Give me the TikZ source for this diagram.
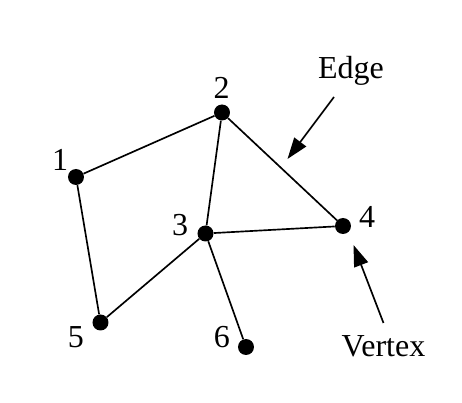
\documentclass[tikz,border=0pt]{standalone}
\usepackage{fontspec}
\setmainfont{Liberation Serif}
\usetikzlibrary{arrows.meta}
\begin{document}
\begin{tikzpicture}[x=0.75pt,y=-0.75pt,
  vtx/.style={circle,fill=black,inner sep=0pt,minimum size=12pt},
  lbl/.style={font=\fontsize{24}{28}\selectfont,inner sep=0pt},
  edg/.style={line width=1.25pt},
  ptr/.style={line width=1.25pt,-{Triangle[length=16pt,width=11pt]}}]
\useasboundingbox (0,0) rectangle (462,403);
\node[vtx] (v1) at (76,177) {};
\node[vtx] (v2) at (222,112.5) {};
\node[vtx] (v3) at (205.5,233.5) {};
\node[vtx] (v4) at (343,226) {};
\node[vtx] (v5) at (100.5,322.5) {};
\node[vtx] (v6) at (246,347) {};
\node[lbl] (l1) at (60,160) {1};
\node[lbl] (l2) at (221.5,88) {2};
\node[lbl] (l3) at (180,225) {3};
\node[lbl] (l4) at (367,217) {4};
\node[lbl] (l5) at (76,337) {5};
\node[lbl] (l6) at (222,337) {6};
\node[lbl] (edge) at (351,71) {Edge};
\node[lbl] (vertex) at (383.5,346) {Vertex};
\coordinate (et) at (287.5,159);
\coordinate (vt) at (353.5,245);
\coordinate (es) at (334,97);
\coordinate (vs) at (383.5,323);
\draw[edg] (v1) -- (v2);
\draw[edg] (v1) -- (v5);
\draw[edg] (v2) -- (v3);
\draw[edg] (v2) -- (v4);
\draw[edg] (v3) -- (v4);
\draw[edg] (v3) -- (v5);
\draw[edg] (v3) -- (v6);
\draw[ptr] (es) -- (et);
\draw[ptr] (vs) -- (vt);
\end{tikzpicture}
\end{document}
